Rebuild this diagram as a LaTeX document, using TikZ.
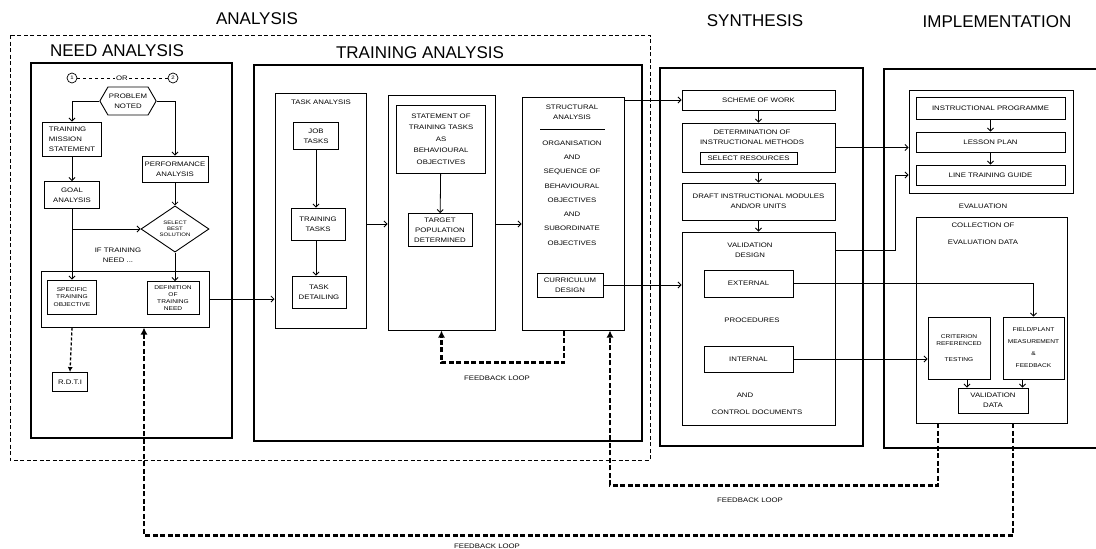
\documentclass[tikz,border=0pt]{standalone}
\usepackage{fontspec}
\setmainfont{Liberation Sans}
\newfontfamily\boxfont[FakeStretch=1.2]{Liberation Sans}
\usetikzlibrary{shapes.geometric,shapes.symbols,arrows.meta}

\begin{document}
\begin{tikzpicture}[x=1pt,y=-1pt]

	\tikzset{
		panel/.style={draw,line width=1.4pt,inner sep=0pt},
		box/.style={draw,line width=0.9pt,inner sep=1pt,align=center,font=\boxfont\fontsize{6.5}{10}\selectfont},
		tinytxt/.style={font=\boxfont\fontsize{5.5}{7.5}\selectfont},
		lbl/.style={align=center,inner sep=1pt,font=\boxfont\fontsize{6.5}{10}\selectfont},
		heading/.style={inner sep=0pt,font=\fontsize{17}{17}\selectfont},
		flow/.style={line width=0.8pt,-{Straight Barb[length=3pt,width=6pt]}},
		fb/.style={line width=2.2pt,dash pattern=on 5pt off 2.5pt,-{Latex[length=7pt,width=7pt]}},
		anabox/.style={line width=0.8pt,dash pattern=on 4pt off 2.5pt}
	}

	\useasboundingbox (0,0) rectangle (1096,549);

	% headings

	\node[heading] (hAna) at (257,19) {ANALYSIS};
	\node[heading] (hSyn) at (755,21) {SYNTHESIS};
	\node[heading] (hImp) at (997,22) {IMPLEMENTATION};
	\node[heading] (hNeed) at (117,51) {NEED ANALYSIS};
	\node[heading] (hTrain) at (420,53) {TRAINING ANALYSIS};

	\draw[anabox] (10,35) rectangle (650,460);

	% need analysis

	\node[panel,minimum width=201,minimum height=375] (need) at (131.5,250.5) {};

	\node[draw,circle,line width=0.7pt,inner sep=0pt,minimum size=10pt,font=\boxfont\fontsize{5}{5}\selectfont] (one) at (72,78) {1};
	\node[lbl] (ortxt) at (122,78) {OR};
	\node[draw,circle,line width=0.7pt,inner sep=0pt,minimum size=10pt,font=\boxfont\fontsize{5}{5}\selectfont] (two) at (173,78) {2};
	\draw[dashed,line width=0.6pt] (one) -- (ortxt); \draw[dashed,line width=0.6pt] (ortxt) -- (two);

	\node[box,shape=signal,signal to=west and east,signal pointer angle=120,minimum width=54,minimum height=28] (prob) at (128,101) {PROBLEM\\NOTED};
	\node[box,align=left,minimum width=59,minimum height=34] (mission) at (72,139) {TRAINING\\MISSION\\STATEMENT};
	\node[box,minimum width=66,minimum height=26] (perf) at (175,169) {PERFORMANCE\\ANALYSIS};
	\node[box,minimum width=55,minimum height=27] (goal) at (72,195) {GOAL\\ANALYSIS};
	\node[box,shape=diamond,inner sep=0pt,minimum width=68,minimum height=38,font=\boxfont\fontsize{5}{6}\selectfont] (select) at (175,229) {SELECT\\BEST\\SOLUTION};
	\node[lbl] (ifneed) at (118,255) {IF TRAINING\\NEED ...};

	\node[panel,line width=1pt,minimum width=168,minimum height=56] (grp) at (125,299) {};
	\node[box,tinytxt,minimum width=49,minimum height=34] (spec) at (72,297) {SPECIFIC\\TRAINING\\OBJECTIVE};
	\node[box,tinytxt,font=\boxfont\fontsize{5.5}{7}\selectfont,minimum width=52,minimum height=33] (defn) at (173,298) {DEFINITION\\OF\\TRAINING\\NEED};
	\node[box,minimum width=35,minimum height=19] (rdti) at (70,382) {R.D.T.I};

	\draw[flow] (prob.west) -| (mission.north);
	\draw[flow] (prob.east) -| (perf.north);
	\draw[flow] (mission) -- (goal);
	\draw[flow] (perf) -- (select);
	\draw[flow] (goal.south) -- (spec.north);
	\draw[flow] (goal.south |- select.west) -- (select.west);
	\draw[flow] (select.south) -- (select.south |- defn.north);
	\draw[line width=1.3pt,dash pattern=on 3pt off 2pt,-{Latex[length=5pt,width=5pt]}] (grp.south -| spec) -- (rdti.north);

	% training analysis

	\node[panel,minimum width=388,minimum height=376] (train) at (448,253) {};

	\node[panel,line width=1pt,minimum width=91,minimum height=235] (task) at (320.5,210.5) {};
	\node[lbl] (tasklbl) at (321,102) {TASK ANALYSIS};
	\node[box,minimum width=45,minimum height=27] (job) at (316,136) {JOB\\TASKS};
	\node[box,minimum width=54,minimum height=32] (trtasks) at (318,224) {TRAINING\\TASKS};
	\node[box,minimum width=54,minimum height=32] (detail) at (319,292) {TASK\\DETAILING};
	\draw[flow] (job) -- (job |- trtasks.north);
	\draw[flow] (job |- trtasks.south) -- (job |- detail.north);

	\node[panel,line width=1pt,minimum width=107,minimum height=235] (stmt) at (441.5,212.5) {};
	\node[box,minimum width=89,minimum height=68,font=\boxfont\fontsize{6.5}{11.5}\selectfont] (stobj) at (441,139) {STATEMENT OF\\TRAINING TASKS\\AS\\BEHAVIOURAL\\OBJECTIVES};
	\node[box,minimum width=64,minimum height=33] (target) at (440,230) {TARGET\\POPULATION\\DETERMINED};
	\draw[flow] (stobj) -- (target);

	\node[panel,line width=1pt,minimum width=102,minimum height=233] (struct) at (573,213.5) {};
	\node[lbl] (structlbl) at (572,112) {STRUCTURAL\\ANALYSIS};
	\draw[line width=1pt] (540,129) -- (605,129);
	\node[lbl,font=\boxfont\fontsize{6.5}{14.3}\selectfont] (orgseq) at (572,193) {ORGANISATION\\AND\\SEQUENCE OF\\BEHAVIOURAL\\OBJECTIVES\\AND\\SUBORDINATE\\OBJECTIVES};
	\node[box,minimum width=66,minimum height=24] (curric) at (570,285) {CURRICULUM\\DESIGN};

	\draw[flow] (grp.east) -- (task.west |- grp.east);
	\draw[flow] (task.east |- trtasks) -- (stmt.west |- trtasks);
	\draw[flow] (stmt.east |- trtasks) -- (struct.west |- trtasks);

	\draw[fb] ([xshift=-9pt]struct.south) -- ++(0,32) -| (stmt.south);
	\node[lbl] (fblabel1) at (497,378) {FEEDBACK LOOP};

	% synthesis

	\node[panel,minimum width=203,minimum height=378] (synth) at (761.5,257) {};

	\node[box,minimum width=153,minimum height=20] (scheme) at (758.5,100) {SCHEME OF WORK};
	\node[box,minimum width=153,minimum height=49] (determ) at (758.5,147.5) {};
	\node[lbl] (determlbl) at (752,137.5) {DETERMINATION OF\\INSTRUCTIONAL METHODS};
	\node[box,minimum width=97,minimum height=12,inner sep=0pt] (resources) at (748.5,158) {SELECT RESOURCES};
	\node[box,minimum width=153,minimum height=37] (draft) at (758.5,201.5) {DRAFT INSTRUCTIONAL MODULES\\AND/OR UNITS};
	\node[box,minimum width=153,minimum height=193] (valid) at (758.5,328.5) {};
	\node[lbl] (vdesign) at (750,250) {VALIDATION\\DESIGN};
	\node[box,minimum width=89,minimum height=27] (ext) at (748.5,283.5) {EXTERNAL};
	\node[lbl] (proc) at (752,320) {PROCEDURES};
	\node[box,minimum width=89,minimum height=26] (intl) at (748.5,359) {INTERNAL};
	\node[lbl] (andtxt) at (745,395) {AND};
	\node[lbl] (ctrl) at (757,412) {CONTROL DOCUMENTS};

	\draw[flow] (scheme) -- (determ);
	\draw[flow] (determ) -- (draft);
	\draw[flow] (draft) -- (valid);

	\draw[flow] (struct.north east |- scheme.west) -- (scheme.west);
	\draw[flow] (curric.east) -- (valid.west |- curric.east);

	% implementation

	\node[panel,minimum width=226,minimum height=379] (impl) at (997,258.5) {};

	\node[panel,line width=1pt,minimum width=164,minimum height=103] (igrp) at (991,141.5) {};
	\node[box,minimum width=149,minimum height=22] (prog) at (990.5,108) {INSTRUCTIONAL PROGRAMME};
	\node[box,minimum width=149,minimum height=20] (lesson) at (990.5,142) {LESSON PLAN};
	\node[box,minimum width=149,minimum height=20] (guide) at (990.5,175) {LINE TRAINING GUIDE};
	\draw[flow] (prog) -- (lesson);
	\draw[flow] (lesson) -- (guide);

	\node[lbl] (evallbl) at (983,206) {EVALUATION};
	\node[box,minimum width=151,minimum height=206] (evbox) at (991.5,320) {};
	\node[lbl,font=\boxfont\fontsize{6.5}{17}\selectfont] (collect) at (983,233.5) {COLLECTION OF\\EVALUATION DATA};
	\node[box,tinytxt,minimum width=62,minimum height=62] (crit) at (959,348) {CRITERION\\REFERENCED\\[8pt]TESTING};
	\node[box,tinytxt,font=\boxfont\fontsize{5.5}{12}\selectfont,minimum width=61,minimum height=62] (field) at (1033.5,348) {FIELD/PLANT\\MEASUREMENT\\\&\\FEEDBACK};
	\node[box,minimum width=70,minimum height=25] (vdata) at (993,400.5) {VALIDATION\\DATA};
	\draw[flow] ([xshift=8pt]crit.south) -- ([xshift=8pt]crit.south |- vdata.north);
	\draw[flow] ([xshift=-11pt]field.south) -- ([xshift=-11pt]field.south |- vdata.north);

	\coordinate (guidein) at (895,175);
	\draw[flow] (determ.east) -- (igrp.west |- determ.east);
	\draw[flow] (valid.east |- vdesign) -| (guidein) -- (igrp.west |- guidein);
	\draw[flow] (ext.east) -| (field.north);
	\draw[flow] (intl.east) -- (crit.west |- intl.east);

	% feedback loops

	\draw[fb] ([xshift=-53.5pt]evbox.south) -- ++(0,62) -| ([xshift=37pt]struct.south);
	\node[lbl] (fblabel2) at (750,500) {FEEDBACK LOOP};

	\draw[fb] ([xshift=21.5pt]evbox.south) -- ++(0,112) -| ([xshift=19pt]grp.south);
	\node[lbl] (fblabel3) at (487,546) {FEEDBACK LOOP};

\end{tikzpicture}
\end{document}
